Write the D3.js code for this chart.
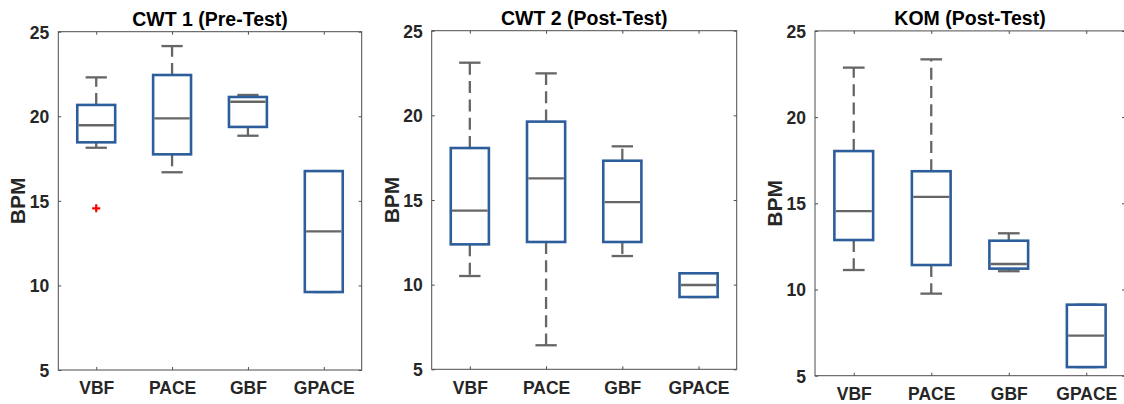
<!DOCTYPE html>
<html>
<head>
<meta charset="utf-8">
<script src="https://cdn.jsdelivr.net/npm/d3@7"></script>
<style>
  html, body { margin: 0; padding: 0; background: #fff; }
  svg { display: block; }
  text { font-family: "Liberation Sans", Arial, sans-serif; font-weight: bold; }
</style>
</head>
<body>
<svg id="chart" width="1124" height="404"></svg>
<script>
// ---- data ----
const categories = ["VBF", "PACE", "GBF", "GPACE"];
const yTicks = [5, 10, 15, 20, 25];
const titles = ["CWT 1 (Pre-Test)", "CWT 2 (Post-Test)", "KOM (Post-Test)"];
const yLabel = "BPM";

// each row: [lowerWhisker, Q1, median, Q3, upperWhisker] per category
const cwt1Stats = [
  [18.14, 18.46, 19.47, 20.67, 22.30],
  [16.69, 17.75, 19.88, 22.44, 24.15],
  [18.85, 19.37, 20.86, 21.14, 21.26],
  [9.61, 9.61, 13.20, 16.76, 16.76]
];
const cwt2Stats = [
  [10.51, 12.38, 14.37, 18.07, 23.11],
  [6.42, 12.52, 16.28, 19.63, 22.48],
  [11.69, 12.52, 14.88, 17.32, 18.17],
  [9.27, 9.27, 9.98, 10.67, 10.67]
];
const komStats = [
  [11.13, 12.87, 14.55, 18.03, 22.87],
  [9.76, 11.42, 15.37, 16.86, 23.35],
  [11.06, 11.21, 11.48, 12.83, 13.26],
  [5.50, 5.50, 7.32, 9.12, 9.12]
];
// outliers: [categoryIndex, value]
const cwt1Outliers = [[0, 14.56]];
const cwt2Outliers = [];
const komOutliers = [];

const panelsData = [
  { title: titles[0], stats: cwt1Stats, outliers: cwt1Outliers },
  { title: titles[1], stats: cwt2Stats, outliers: cwt2Outliers },
  { title: titles[2], stats: komStats, outliers: komOutliers }
];

// ---- layout ----
const layouts = [
  { left: 58.3, right: 361.7, top: 31.7, bottom: 370 },
  { left: 431.7, right: 736.7, top: 30.7, bottom: 369.3 },
  { left: 815, right: 1125, top: 30.9, bottom: 375.7 }
];

const BOX = "#2d5e9b";
const GRAY = "#666666";
const AXIS = "#4d4d4d";
const LABEL = "#262626";

const svg = d3.select("#chart");

panelsData.forEach((p, pi) => {
  const L = layouts[pi];
  const g = svg.append("g");
  const x = d3.scaleLinear().domain([0.5, 4.5]).range([L.left, L.right]);
  const y = d3.scaleLinear().domain([5, 25]).range([L.bottom, L.top]);
  const step = x(2) - x(1);
  const boxW = step * 0.5;
  const capW = step * 0.28;

  // axis frame
  g.append("rect")
    .attr("x", L.left).attr("y", L.top)
    .attr("width", L.right - L.left).attr("height", L.bottom - L.top)
    .attr("fill", "none").attr("stroke", AXIS).attr("stroke-width", 1);

  // y axis (left) with ticks inside
  const yAxisL = d3.axisLeft(y).tickValues(yTicks).tickSize(-3).tickPadding(9).tickFormat(d3.format("d"));
  const gy = g.append("g").attr("transform", `translate(${L.left},0)`).call(yAxisL);
  gy.select(".domain").remove();
  gy.selectAll("line").attr("stroke", AXIS);
  gy.selectAll("text").attr("fill", LABEL).style("font-size", "17.5px").attr("dy", "0.36em");
  // right ticks
  const yAxisR = d3.axisRight(y).tickValues(yTicks).tickSize(-3).tickFormat("");
  const gyr = g.append("g").attr("transform", `translate(${L.right},0)`).call(yAxisR);
  gyr.select(".domain").remove();
  gyr.selectAll("line").attr("stroke", AXIS);

  // x axis bottom
  const xAxisB = d3.axisBottom(x).tickValues([1, 2, 3, 4]).tickSize(-3).tickPadding(12)
    .tickFormat((d) => categories[d - 1]);
  const gx = g.append("g").attr("transform", `translate(0,${L.bottom})`).call(xAxisB);
  gx.select(".domain").remove();
  gx.selectAll("line").attr("stroke", AXIS);
  gx.selectAll("text").attr("fill", LABEL).style("font-size", "17.5px");
  // x axis top ticks
  const xAxisT = d3.axisTop(x).tickValues([1, 2, 3, 4]).tickSize(-3).tickFormat("");
  const gxt = g.append("g").attr("transform", `translate(0,${L.top})`).call(xAxisT);
  gxt.select(".domain").remove();
  gxt.selectAll("line").attr("stroke", AXIS);

  // title
  g.append("text")
    .attr("x", (L.left + L.right) / 2)
    .attr("y", L.top - 5.5)
    .attr("text-anchor", "middle")
    .attr("fill", "#000")
    .style("font-size", "19.5px")
    .text(p.title);

  // y label
  g.append("text")
    .attr("transform", `translate(${L.left - 40.5},${(L.top + L.bottom) / 2}) rotate(-90)`)
    .attr("text-anchor", "middle")
    .attr("dy", "0.36em")
    .attr("fill", LABEL)
    .style("font-size", "21px")
    .text(yLabel);

  // boxes
  p.stats.forEach((s, ci) => {
    const cx = x(ci + 1);
    const [lo, q1, med, q3, hi] = s;
    // whiskers (dashed)
    if (hi > q3) {
      g.append("line").attr("x1", cx).attr("x2", cx).attr("y1", y(q3)).attr("y2", y(hi))
        .attr("stroke", GRAY).attr("stroke-width", 2.3).attr("stroke-dasharray", "12,6.3");
    }
    if (lo < q1) {
      g.append("line").attr("x1", cx).attr("x2", cx).attr("y1", y(q1)).attr("y2", y(lo))
        .attr("stroke", GRAY).attr("stroke-width", 2.3).attr("stroke-dasharray", "12,6.3");
    }
    // caps
    [lo, hi].forEach((v) => {
      g.append("line").attr("x1", cx - capW / 2).attr("x2", cx + capW / 2)
        .attr("y1", y(v)).attr("y2", y(v))
        .attr("stroke", GRAY).attr("stroke-width", 2.3);
    });
    // box
    g.append("rect")
      .attr("x", cx - boxW / 2).attr("y", y(q3))
      .attr("width", boxW).attr("height", y(q1) - y(q3))
      .attr("fill", "#fff").attr("stroke", BOX).attr("stroke-width", 2.6);
    // median
    g.append("line").attr("x1", cx - boxW / 2 + 1.3).attr("x2", cx + boxW / 2 - 1.3)
      .attr("y1", y(med)).attr("y2", y(med))
      .attr("stroke", GRAY).attr("stroke-width", 2.3);
  });

  // outliers
  p.outliers.forEach(([ci, v]) => {
    const cx = x(ci + 1), cy = y(v);
    const r = 4;
    g.append("path")
      .attr("d", `M${cx - r},${cy}H${cx + r}M${cx},${cy - r}V${cy + r}`)
      .attr("stroke", "#ff0000").attr("stroke-width", 2.2).attr("fill", "none");
  });
});
</script>
</body>
</html>
